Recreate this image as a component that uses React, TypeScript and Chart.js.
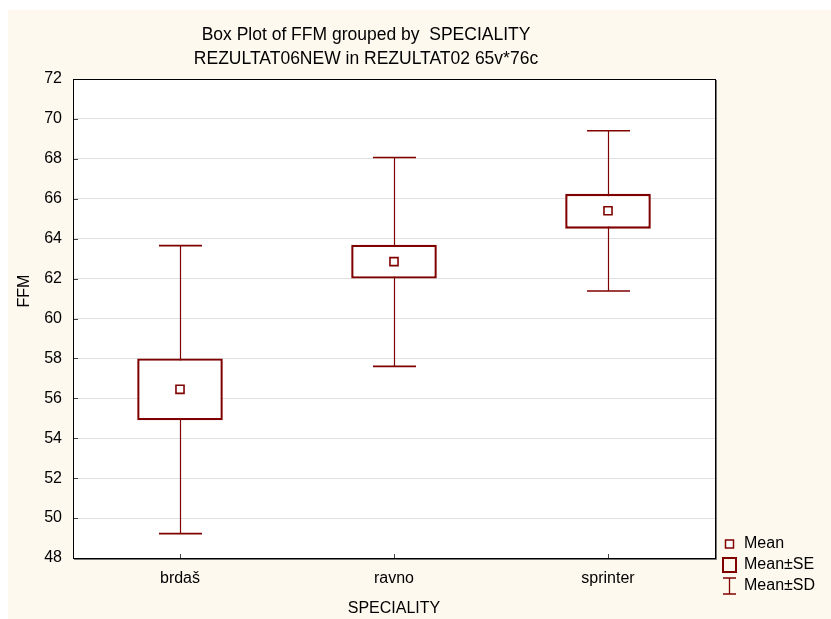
import React, { useEffect, useRef } from "react";
import { Chart, registerables } from "chart.js";

Chart.register(...registerables);

const categories = ["brdaš", "ravno", "sprinter"];
const means = [56.45, 62.85, 65.4];
const seLow = [54.9, 62.0, 64.5];
const seHigh = [58.0, 63.7, 66.25];
const sdLow = [49.22, 57.6, 61.38];
const sdHigh = [63.65, 68.07, 69.41];
const yTicks = [48, 50, 52, 54, 56, 58, 60, 62, 64, 66, 68, 70, 72];
const titleLines = ["Box Plot of FFM grouped by  SPECIALITY", "REZULTAT06NEW in REZULTAT02 65v*76c"];
const xTitle = "SPECIALITY";
const yTitle = "FFM";
const legendLabels = ["Mean", "Mean±SE", "Mean±SD"];

const RED = "#800000";
const CREAM = "#FDF9EF";
const FONT = '"Liberation Sans", Arial, sans-serif';

const boxPlugin = {
  id: "boxExtras",
  beforeDraw(chart: any) {
    const { ctx, chartArea: a, width, height } = chart;
    ctx.save();
    ctx.fillStyle = CREAM;
    ctx.fillRect(0, 0, width, height);
    ctx.fillStyle = "#ffffff";
    ctx.fillRect(a.left, a.top, a.right - a.left, a.bottom - a.top);
    ctx.restore();
  },
  beforeDatasetsDraw(chart: any) {
    const { ctx } = chart;
    const xs = chart.scales.x;
    const ys = chart.scales.y;
    ctx.save();
    ctx.strokeStyle = RED;
    categories.forEach((_, i) => {
      const x = Math.round(xs.getPixelForValue(i)) + 0.5;
      const yl = ys.getPixelForValue(sdLow[i]);
      const yh = ys.getPixelForValue(sdHigh[i]);
      ctx.lineWidth = 1.2;
      ctx.beginPath();
      ctx.moveTo(x, yl);
      ctx.lineTo(x, yh);
      ctx.stroke();
      ctx.lineWidth = 1.6;
      ctx.beginPath();
      ctx.moveTo(x - 21.5, yl);
      ctx.lineTo(x + 21.5, yl);
      ctx.moveTo(x - 21.5, yh);
      ctx.lineTo(x + 21.5, yh);
      ctx.stroke();
    });
    ctx.restore();
  },
  afterDraw(chart: any) {
    const { ctx, chartArea: a } = chart;
    const xs = chart.scales.x;
    const ys = chart.scales.y;
    ctx.save();
    // inner ticks
    ctx.strokeStyle = "#444";
    ctx.lineWidth = 1;
    ctx.beginPath();
    yTicks.forEach((v) => {
      const y = Math.round(ys.getPixelForValue(v)) + 0.5;
      ctx.moveTo(a.left, y);
      ctx.lineTo(a.left + 5, y);
    });
    categories.forEach((_, i) => {
      const x = Math.round(xs.getPixelForValue(i)) + 0.5;
      ctx.moveTo(x, a.bottom);
      ctx.lineTo(x, a.bottom - 4);
    });
    ctx.stroke();
    // plot border
    ctx.strokeStyle = "#000";
    ctx.lineWidth = 1;
    ctx.strokeRect(Math.round(a.left) + 0.5, Math.round(a.top) + 0.5, Math.round(a.right - a.left), Math.round(a.bottom - a.top));
    ctx.strokeStyle = "#777";
    ctx.beginPath();
    ctx.moveTo(Math.round(a.right) + 1.5, Math.round(a.top) + 1);
    ctx.lineTo(Math.round(a.right) + 1.5, Math.round(a.bottom) + 1.5);
    ctx.lineTo(Math.round(a.left) + 1, Math.round(a.bottom) + 1.5);
    ctx.stroke();

    // titles
    ctx.fillStyle = "#000";
    ctx.textAlign = "center";
    ctx.textBaseline = "middle";
    ctx.font = `17.5px ${FONT}`;
    ctx.fillText(titleLines[0], 358, 25);
    ctx.fillText(titleLines[1], 358, 49.5);
    ctx.font = `16px ${FONT}`;
    ctx.fillText(xTitle, (a.left + a.right) / 2, 599);
    ctx.save();
    ctx.translate(17, 281);
    ctx.rotate(-Math.PI / 2);
    ctx.fillText(yTitle, 0, 0);
    ctx.restore();

    // legend
    const lx = 721.5;
    ctx.strokeStyle = RED;
    ctx.fillStyle = "#fff";
    ctx.lineWidth = 1.5;
    ctx.fillRect(lx - 4, 530, 8, 8);
    ctx.strokeRect(lx - 4, 530, 8, 8);
    ctx.lineWidth = 2;
    ctx.strokeRect(lx - 6.5, 548, 13, 14);
    ctx.lineWidth = 1.3;
    ctx.beginPath();
    ctx.moveTo(lx, 568);
    ctx.lineTo(lx, 584);
    ctx.moveTo(lx - 6.5, 568);
    ctx.lineTo(lx + 6.5, 568);
    ctx.moveTo(lx - 6.5, 584);
    ctx.lineTo(lx + 6.5, 584);
    ctx.stroke();
    ctx.fillStyle = "#000";
    ctx.textAlign = "left";
    ctx.fillText(legendLabels[0], 736, 534);
    ctx.fillText(legendLabels[1], 736, 555);
    ctx.fillText(legendLabels[2], 736, 576);
    ctx.restore();
  },
};

export default function App() {
  const ref = useRef<HTMLCanvasElement | null>(null);
  useEffect(() => {
    if (!ref.current) return;
    const chart = new Chart(ref.current, {
      type: "bar",
      data: {
        labels: categories,
        datasets: [
          {
            type: "line",
            label: legendLabels[0],
            data: means,
            showLine: false,
            pointStyle: "rect",
            pointRadius: 5.7,
            pointBorderWidth: 1.6,
            pointBackgroundColor: "#ffffff",
            pointBorderColor: RED,
            order: 0,
          } as any,
          {
            type: "bar",
            label: legendLabels[1],
            data: categories.map((_, i) => [seLow[i], seHigh[i]]),
            backgroundColor: "#ffffff",
            borderColor: RED,
            borderWidth: 2.4,
            borderSkipped: false,
            barPercentage: 0.4,
            categoryPercentage: 1,
            order: 1,
          } as any,
        ],
      },
      options: {
        responsive: false,
        animation: false,
        layout: { padding: { top: 69, right: 116, left: 0, bottom: 0 } },
        plugins: {
          legend: { display: false },
          title: { display: false },
          tooltip: { enabled: false },
        },
        scales: {
          x: {
            type: "category",
            grid: { display: false, drawTicks: false },
            border: { display: false },
            ticks: {
              color: "#000",
              font: { family: FONT, size: 16 },
              padding: 11,
            },
            afterFit: (s: any) => {
              s.height = 61;
            },
          },
          y: {
            type: "linear",
            min: 48,
            max: 72,
            grid: { color: "#e0e0e0", lineWidth: 1, drawTicks: false },
            border: { display: false },
            afterBuildTicks: (s: any) => {
              s.ticks = yTicks.map((v) => ({ value: v }));
            },
            ticks: {
              color: "#000",
              font: { family: FONT, size: 16 },
              padding: 11,
            },
            afterFit: (s: any) => {
              s.width = 65;
            },
          },
        },
      },
      plugins: [boxPlugin],
    });
    return () => chart.destroy();
  }, []);
  return (
    <div style={{ position: "absolute", left: 8, top: 10, width: 823, height: 609 }}>
      <canvas ref={ref} width={823} height={609} style={{ display: "block" }} />
    </div>
  );
}
